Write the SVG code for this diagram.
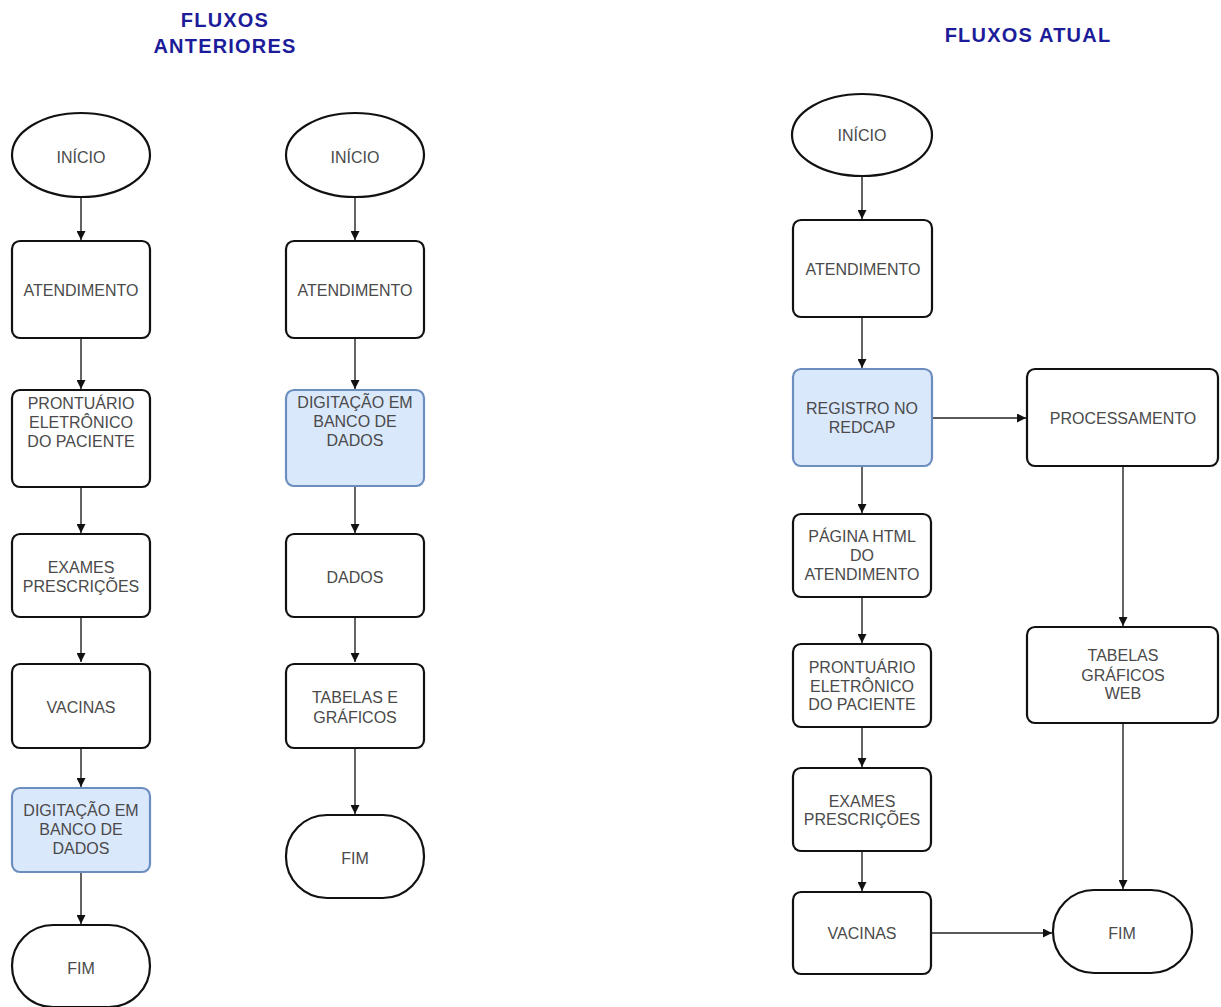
<svg xmlns="http://www.w3.org/2000/svg" width="1221" height="1007" viewBox="0 0 1221 1007">
  <style>
    .box { fill: #ffffff; stroke: #111111; stroke-width: 2.2; }
    .hl { fill: #dae8fc; stroke: #6c8ebf; stroke-width: 2.2; }
    .lbl { font-family: "Liberation Sans", Arial, sans-serif; font-size: 16px; fill: #4a4a4a; text-anchor: middle; }
    .title { font-family: "Liberation Sans", Arial, sans-serif; font-size: 20px; font-weight: bold; fill: #1c1c9a; text-anchor: middle; letter-spacing: 1.2px; }
    .edge { fill: none; stroke: #222222; stroke-width: 1.4; marker-end: url(#arrow); }
  </style>
  <defs>
    <marker id="arrow" viewBox="0 0 10 10" refX="10" refY="5" markerWidth="9" markerHeight="9" markerUnits="userSpaceOnUse" orient="auto">
      <path d="M0,0 L10,5 L0,10 z" fill="#111111"/>
    </marker>
  </defs>
  <rect width="1221" height="1007" fill="#ffffff"/>

  <!-- titles -->
  <text class="title" x="225" y="27">FLUXOS</text>
  <text class="title" x="225" y="53">ANTERIORES</text>
  <text class="title" x="1028" y="42">FLUXOS ATUAL</text>

  <!-- connectors -->
  <g id="connectors">
    <!-- first previous flow -->
    <path class="edge" d="M81,197 V240"/>
    <path class="edge" d="M81,338 V389"/>
    <path class="edge" d="M81,487 V533"/>
    <path class="edge" d="M81,617 V662"/>
    <path class="edge" d="M81,748 V787"/>
    <path class="edge" d="M81,872 V924"/>
    <!-- second previous flow -->
    <path class="edge" d="M355,197 V240"/>
    <path class="edge" d="M355,338 V389"/>
    <path class="edge" d="M355,486 V533"/>
    <path class="edge" d="M355,617 V662"/>
    <path class="edge" d="M355,748 V814"/>
    <!-- current flow -->
    <path class="edge" d="M862,176 V219"/>
    <path class="edge" d="M862,317 V368"/>
    <path class="edge" d="M862,466 V513"/>
    <path class="edge" d="M862,597 V643"/>
    <path class="edge" d="M862,727 V767"/>
    <path class="edge" d="M862,851 V891"/>
    <path class="edge" d="M932,418 H1026"/>
    <path class="edge" d="M1123,466 V626"/>
    <path class="edge" d="M1123,723 V889"/>
    <path class="edge" d="M931,933 H1052"/>
  </g>

  <!-- first previous flow -->
  <g id="a-inicio">
    <ellipse class="box" cx="81" cy="155" rx="69" ry="42"/>
    <text class="lbl" x="81" y="163">INÍCIO</text>
  </g>
  <g id="a-atendimento">
    <rect class="box" x="12" y="241" width="138" height="97" rx="8"/>
    <text class="lbl" x="81" y="296">ATENDIMENTO</text>
  </g>
  <g id="a-prontuario">
    <rect class="box" x="12" y="390" width="138" height="97" rx="8"/>
    <text class="lbl" x="81" y="409">PRONTUÁRIO</text>
    <text class="lbl" x="81" y="428">ELETRÔNICO</text>
    <text class="lbl" x="81" y="447">DO PACIENTE</text>
  </g>
  <g id="a-exames">
    <rect class="box" x="12" y="534" width="138" height="83" rx="8"/>
    <text class="lbl" x="81" y="573">EXAMES</text>
    <text class="lbl" x="81" y="592">PRESCRIÇÕES</text>
  </g>
  <g id="a-vacinas">
    <rect class="box" x="12" y="664" width="138" height="84" rx="8"/>
    <text class="lbl" x="81" y="713">VACINAS</text>
  </g>
  <g id="a-digitacao">
    <rect class="hl" x="12" y="788" width="138" height="84" rx="8"/>
    <text class="lbl" x="81" y="816">DIGITAÇÃO EM</text>
    <text class="lbl" x="81" y="835">BANCO DE</text>
    <text class="lbl" x="81" y="854">DADOS</text>
  </g>
  <g id="a-fim">
    <rect class="box" x="12" y="925" width="138" height="82" rx="41"/>
    <text class="lbl" x="81" y="974">FIM</text>
  </g>

  <!-- second previous flow -->
  <g id="b-inicio">
    <ellipse class="box" cx="355" cy="155" rx="69" ry="42"/>
    <text class="lbl" x="355" y="163">INÍCIO</text>
  </g>
  <g id="b-atendimento">
    <rect class="box" x="286" y="241" width="138" height="97" rx="8"/>
    <text class="lbl" x="355" y="296">ATENDIMENTO</text>
  </g>
  <g id="b-digitacao">
    <rect class="hl" x="286" y="390" width="138" height="96" rx="8"/>
    <text class="lbl" x="355" y="408">DIGITAÇÃO EM</text>
    <text class="lbl" x="355" y="427">BANCO DE</text>
    <text class="lbl" x="355" y="446">DADOS</text>
  </g>
  <g id="b-dados">
    <rect class="box" x="286" y="534" width="138" height="83" rx="8"/>
    <text class="lbl" x="355" y="583">DADOS</text>
  </g>
  <g id="b-tabelas">
    <rect class="box" x="286" y="664" width="138" height="84" rx="8"/>
    <text class="lbl" x="355" y="703">TABELAS E</text>
    <text class="lbl" x="355" y="723">GRÁFICOS</text>
  </g>
  <g id="b-fim">
    <rect class="box" x="286" y="815" width="138" height="83" rx="41"/>
    <text class="lbl" x="355" y="864">FIM</text>
  </g>

  <!-- current flow -->
  <g id="c-inicio">
    <ellipse class="box" cx="862" cy="135" rx="70" ry="41"/>
    <text class="lbl" x="862" y="141">INÍCIO</text>
  </g>
  <g id="c-atendimento">
    <rect class="box" x="793" y="220" width="139" height="97" rx="8"/>
    <text class="lbl" x="863" y="275">ATENDIMENTO</text>
  </g>
  <g id="c-registro">
    <rect class="hl" x="793" y="369" width="139" height="97" rx="8"/>
    <text class="lbl" x="862" y="414">REGISTRO NO</text>
    <text class="lbl" x="862" y="433">REDCAP</text>
  </g>
  <g id="c-processamento">
    <rect class="box" x="1027" y="369" width="191" height="97" rx="8"/>
    <text class="lbl" x="1123" y="424">PROCESSAMENTO</text>
  </g>
  <g id="c-pagina">
    <rect class="box" x="793" y="514" width="138" height="83" rx="8"/>
    <text class="lbl" x="862" y="542">PÁGINA HTML</text>
    <text class="lbl" x="862" y="561">DO</text>
    <text class="lbl" x="862" y="580">ATENDIMENTO</text>
  </g>
  <g id="c-prontuario">
    <rect class="box" x="793" y="644" width="138" height="83" rx="8"/>
    <text class="lbl" x="862" y="673">PRONTUÁRIO</text>
    <text class="lbl" x="862" y="692">ELETRÔNICO</text>
    <text class="lbl" x="862" y="710">DO PACIENTE</text>
  </g>
  <g id="c-exames">
    <rect class="box" x="793" y="768" width="138" height="83" rx="8"/>
    <text class="lbl" x="862" y="807">EXAMES</text>
    <text class="lbl" x="862" y="825">PRESCRIÇÕES</text>
  </g>
  <g id="c-vacinas">
    <rect class="box" x="793" y="892" width="138" height="82" rx="8"/>
    <text class="lbl" x="862" y="939">VACINAS</text>
  </g>
  <g id="c-tabelas">
    <rect class="box" x="1027" y="627" width="191" height="96" rx="8"/>
    <text class="lbl" x="1123" y="661">TABELAS</text>
    <text class="lbl" x="1123" y="681">GRÁFICOS</text>
    <text class="lbl" x="1123" y="699">WEB</text>
  </g>
  <g id="c-fim">
    <rect class="box" x="1053" y="890" width="139" height="83" rx="41"/>
    <text class="lbl" x="1122" y="939">FIM</text>
  </g>
</svg>
